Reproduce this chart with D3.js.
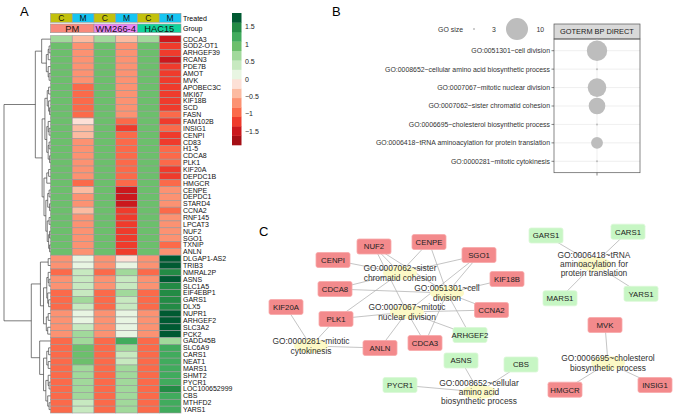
<!DOCTYPE html>
<html><head><meta charset="utf-8">
<script src="https://cdn.jsdelivr.net/npm/d3@7"></script>
<style>
html,body{margin:0;padding:0;background:#fff;}
svg{display:block;font-family:"Liberation Sans",Arial,Helvetica,sans-serif;}
</style></head>
<body><svg id="chart" width="677" height="418"></svg>
<script>
// ---------------- DATA ----------------
const genes = ["CDCA3","SOD2-OT1","ARHGEF39","RCAN3","PDE7B","AMOT","MVK","APOBEC3C","MKI67","KIF18B","SCD","FASN","FAM102B","INSIG1","CENPI","CD83","H1-5","CDCA8","PLK1","KIF20A","DEPDC1B","HMGCR","CENPE","DEPDC1","STARD4","CCNA2","RNF145","LPCAT3","NUF2","SGO1","TXNIP","ANLN",
"DLGAP1-AS2","TRIB3","NMRAL2P","ASNS","SLC1A5","EIF4EBP1","GARS1","DLX5","NUPR1","ARHGEF2","SLC3A2","PCK2","GADD45B","SLC6A9","CARS1","NEAT1","MARS1","SHMT2","PYCR1","LOC100652999","CBS","MTHFD2","YARS1"];
const samples = ["PM_C","PM_M","WM_C","WM_M","HAC_C","HAC_M"];
const treated = ["C","M","C","M","C","M"];
const groups = ["PM","WM266-4","HAC15"];
const sampleGroup = ["PM","PM","WM266-4","WM266-4","HAC15","HAC15"];

const cTop = [0.6,1,1,1,1,1,1,1,1,1,1,1,1,1,1,1,1,1,1,1,1,1,1,1,1,1,1,1,1,1,1,1];
const cBottom = [-0.7,-0.7,-0.9,-0.7,-0.7,-0.9,-0.9,-0.9,-0.7,-0.7,-0.7,-0.7,-0.9,-0.9,-0.9,-0.9,-0.9,-0.9,-0.9,-0.9,-0.9,-0.9,-0.9];
const pmC = cTop.concat(cBottom);
const wmC = cTop.concat(cBottom);
const hacC = cTop.concat(cBottom);
const pmM = [-0.4,-0.7,-0.7,-0.7,-0.7,-0.6,-0.6,-0.9,-0.9,-0.9,-0.9,-0.9,-0.15,-0.4,-0.4,-0.7,-0.7,-0.7,-0.7,-0.7,-0.7,-1.0,-0.4,-0.7,-0.7,-0.4,-0.7,-0.7,-0.7,-0.7,-0.7,-0.7,
  0.15,0.15,0.4,0.4,0.4,0.4,0.6,0.4,0.15,0.15,0.4,0.6,0.6,1.0,1.0,1.0,0.6,0.6,0.6,0.6,0.6,0.4,0.4];
const wmM = [-0.45,-0.7,-0.7,-0.6,-0.7,-0.7,-0.7,-0.6,-0.6,-0.6,-0.7,-0.7,-0.9,-1.2,-0.9,-0.9,-0.9,-0.9,-0.9,-0.9,-0.9,-0.9,-1.6,-1.6,-1.6,-1.3,-1.3,-1.3,-1.3,-1.3,-1.3,-1.3,
  -0.15,0.15,0.6,0.4,0.4,0.6,0.4,0.4,0.15,0.15,0.15,0.15,1.2,0.6,0.4,0.4,0.6,0.6,0.6,0.6,0.6,0.6,0.6];
const hacM = [-1.6,-1.3,-1.3,-1.6,-1.3,-1.3,-1.3,-1.3,-1.3,-1.3,-1.2,-1.0,-1.2,-1.0,-1.3,-1.3,-1.0,-1.0,-1.0,-1.3,-1.3,-1.0,-0.8,-0.7,-0.7,-0.9,-0.8,-0.7,-0.8,-0.8,-0.9,-0.8,
  1.8,1.8,1.4,1.8,1.4,1.4,1.4,1.4,1.8,1.8,1.8,1.8,0.6,1.2,1.2,1.2,1.2,1.2,1.2,1.4,1.2,1.2,1.2];
const matrix = [pmC, pmM, wmC, wmM, hacC, hacM];
const legendTicks = [1.5,1,0.5,0,-0.5,-1,-1.5];

// row dendrogram: [height, left, right], leaves are gene indices
const dendro = [1.0,
  [0.326,
    [0.19, 0, [0.09, [0.05,[0.03,1,2],3], [0.05,4,[0.03,5,6]]]],
    [0.18,
      [0.12, [0.07,[0.04,7,8],[0.04,9,[0.02,10,11]]], [0.08,[0.05,12,[0.03,13,14]],[0.05,[0.03,15,16],[0.02,17,18]]]],
      [0.14, [0.08,[0.04,19,20],21], [0.1,[0.06,[0.03,22,23],[0.02,24,25]],[0.07,[0.03,26,27],[0.04,[0.02,28,29],[0.02,30,31]]]]]]],
  [0.413,
    [0.217, [0.05,32,33], [0.15,[0.08,[0.05,34,[0.03,35,36]],[0.06,37,[0.04,38,39]]],[0.09,[0.05,40,41],[0.06,42,43]]]],
    [0.233, 44, [0.15,[0.08,[0.04,45,46],[0.05,47,48]],[0.1,[0.05,49,[0.03,50,51]],[0.06,52,[0.03,53,54]]]]]]];

// Panel B
const goTerms = ["GO:0051301~cell division","GO:0008652~cellular amino acid biosynthetic process","GO:0007067~mitotic nuclear division","GO:0007062~sister chromatid cohesion","GO:0006695~cholesterol biosynthetic process","GO:0006418~tRNA aminoacylation for protein translation","GO:0000281~mitotic cytokinesis"];
const goSize = [9,3,8,7,3,5,3];
const facet = ["GOTERM BP DIRECT"];
const sizeBreaks = [3,10];

// Panel C network (layout units from the original network layout)
const geneNodes = ["CENPI","NUF2","CENPE","SGO1","KIF18B","CCNA2","ARHGEF2","CDCA3","ANLN","PLK1","CDCA8","KIF20A","ASNS","CBS","PYCR1","GARS1","CARS1","MARS1","YARS1","MVK","HMGCR","INSIG1"];
const geneDir = ["down","down","down","down","down","down","up","down","down","down","down","down","up","up","up","up","up","up","up","down","down","down"];
const geneLX = [68,109,164,214,242,226.5,205,160,115,71,70,21,196,256,135,281,363,295,376,340,300,390];
const geneLY = [45,31.5,27,40,64,95,120,128,133,104,74,92,145.5,149.5,170,20.5,16.7,83.3,78.8,110,174.7,170];
const goNodes = ["GO:0007062","GO:0051301","GO:0007067","GO:0000281","GO:0008652","GO:0006418","GO:0006695"];
const goLabels = [["GO:0007062~sister","chromatid cohesion"],["GO:0051301~cell","division"],["GO:0007067~mitotic","nuclear division"],["GO:0000281~mitotic","cytokinesis"],["GO:0008652~cellular","amino acid","biosynthetic process"],["GO:0006418~tRNA","aminoacylation for","protein translation"],["GO:0006695~cholesterol","biosynthetic process"]];
const goLX = [135,182,142,46,214,329,343];
const goLY = [58,78,97,131,177,49,148];
const edges = [
 ["CENPI","GO:0007062"],["NUF2","GO:0007062"],["CENPE","GO:0007062"],["SGO1","GO:0007062"],["CDCA8","GO:0007062"],["PLK1","GO:0007062"],
 ["NUF2","GO:0051301"],["CENPE","GO:0051301"],["ARHGEF2","GO:0051301"],["SGO1","GO:0051301"],["KIF18B","GO:0051301"],["CCNA2","GO:0051301"],["CDCA8","GO:0051301"],["CDCA3","GO:0051301"],
 ["NUF2","GO:0007067"],["CDCA3","GO:0007067"],["PLK1","GO:0007067"],["ANLN","GO:0007067"],["SGO1","GO:0007067"],["CCNA2","GO:0007067"],["ARHGEF2","GO:0007067"],
 ["KIF20A","GO:0000281"],["PLK1","GO:0000281"],["ANLN","GO:0000281"],
 ["ASNS","GO:0008652"],["CBS","GO:0008652"],["PYCR1","GO:0008652"],
 ["GARS1","GO:0006418"],["CARS1","GO:0006418"],["MARS1","GO:0006418"],["YARS1","GO:0006418"],
 ["MVK","GO:0006695"],["HMGCR","GO:0006695"],["INSIG1","GO:0006695"]];

// ---------------- DRAW ----------------
const svg = d3.select("#chart");
svg.append("rect").attr("width",677).attr("height",418).attr("fill","#fff");

const palette = ["#a50f15","#cb181d","#ef3b2c","#fb6a4a","#fc9272","#fcbba1","#fde0d6","#e8f5e2","#c7e9c0","#a1d99b","#6cbf6c","#41ab5d","#238b45","#005a32"];
const color = d3.scaleQuantize().domain([-1.9,1.9]).range(palette);

const yRow = d3.scaleBand().domain(genes).range([35.7,413]);
const xCol = d3.scaleBand().domain(samples).range([50.5,181]);
const gA = svg.append("g");

// panel letters
svg.append("text").attr("x",20).attr("y",16).attr("font-size",13).text("A");
svg.append("text").attr("x",332).attr("y",15.5).attr("font-size",13).text("B");
svg.append("text").attr("x",259).attr("y",236).attr("font-size",13).text("C");

// heatmap cells
samples.forEach((s,j)=>{
  gA.selectAll(null).data(matrix[j]).join("rect")
    .attr("x",xCol(s)).attr("y",(d,i)=>yRow(genes[i]))
    .attr("width",xCol.bandwidth()).attr("height",yRow.bandwidth())
    .attr("fill",d=>color(d)).attr("stroke","#999").attr("stroke-width",0.6);
});
// treated annotation
const treatColor = d3.scaleOrdinal().domain(["C","M"]).range(["#c2c10c","#16c5f2"]);
gA.selectAll(null).data(samples).join("rect")
  .attr("x",d=>xCol(d)).attr("y",13.3).attr("width",xCol.bandwidth()).attr("height",9)
  .attr("fill",(d,i)=>treatColor(treated[i])).attr("stroke","#999").attr("stroke-width",0.6);
gA.selectAll(null).data(samples).join("text")
  .attr("x",d=>xCol(d)+xCol.bandwidth()/2).attr("y",21.2).attr("text-anchor","middle")
  .attr("font-size",8.5).attr("fill","#111").text((d,i)=>treated[i]);
// group annotation
const groupColor = d3.scaleOrdinal().domain(groups).range(["#f88a7c","#e984f5","#10d39b"]);
groups.forEach(g=>{
  const cols = samples.filter((s,i)=>sampleGroup[i]===g);
  const x0 = xCol(cols[0]), x1 = xCol(cols[cols.length-1])+xCol.bandwidth();
  gA.append("rect").attr("x",x0).attr("y",24).attr("width",x1-x0).attr("height",8.7)
    .attr("fill",groupColor(g)).attr("stroke","#999").attr("stroke-width",0.6);
  gA.append("text").attr("x",(x0+x1)/2).attr("y",31.8).attr("text-anchor","middle")
    .attr("font-size",9.3).attr("fill","#111").text(g);
});
gA.append("text").attr("x",183).attr("y",20.8).attr("font-size",7).text("Treated");
gA.append("text").attr("x",183).attr("y",31.3).attr("font-size",7).text("Group");

// gene labels
gA.selectAll(null).data(genes).join("text")
  .attr("x",183).attr("y",d=>yRow(d)+yRow.bandwidth()/2+2.5)
  .attr("font-size",7).attr("fill","#111").text(d=>d);

// color legend
const yLeg = d3.scaleLinear().domain([-1.9,1.9]).range([145,13]);
gA.selectAll(null).data(palette).join("rect")
  .attr("x",232).attr("width",9.5)
  .attr("y",d=>yLeg(color.invertExtent(d)[1]))
  .attr("height",d=>yLeg(color.invertExtent(d)[0])-yLeg(color.invertExtent(d)[1])+0.3)
  .attr("fill",d=>d);
gA.selectAll(null).data(legendTicks).join("text")
  .attr("x",245).attr("y",d=>yLeg(d)+2.5).attr("font-size",7).attr("fill","#222")
  .text(d=>d3.format("")(d).replace("-","\u2212"));

// dendrogram
const xD = d3.scaleLinear().domain([0,1]).range([50.5,4]);
const dg = gA.append("g").attr("stroke","#444").attr("stroke-width",0.7).attr("fill","none");
function drawNode(n){
  if(typeof n === "number") return {x:xD(0), y:yRow(genes[n])+yRow.bandwidth()/2};
  const l = drawNode(n[1]), r = drawNode(n[2]);
  const x = xD(n[0]);
  dg.append("path").attr("d",`M${l.x},${l.y}H${x}V${r.y}H${r.x}`);
  return {x:x, y:(l.y+r.y)/2};
}
drawNode(dendro);

// ---------------- Panel B ----------------
const gB = svg.append("g");
const yB = d3.scalePoint().domain(goTerms).range([50.7,161.3]);
const xB = d3.scalePoint().domain(facet).range([554,640]).padding(0.5);
const area = d3.scaleLinear().domain([3,10]).range([1,121]);
const rB = s => Math.sqrt(Math.max(area(s),0));
// strip
gB.append("rect").attr("x",554).attr("y",24).attr("width",86).attr("height",15)
  .attr("fill","#d9d9d9").attr("stroke","#555").attr("stroke-width",0.7);
gB.append("text").attr("x",597).attr("y",34.3).attr("text-anchor","middle").attr("font-size",7.4).attr("fill","#1a1a1a").text(facet[0]);
// panel grid
gB.selectAll(null).data(goTerms).join("line")
  .attr("x1",554).attr("x2",640).attr("y1",d=>yB(d)).attr("y2",d=>yB(d))
  .attr("stroke","#ebebeb").attr("stroke-width",0.8);
gB.append("line").attr("x1",xB(facet[0])).attr("x2",xB(facet[0])).attr("y1",39).attr("y2",172.7)
  .attr("stroke","#ebebeb").attr("stroke-width",0.8);
// points
gB.selectAll(null).data(goTerms).join("circle")
  .attr("cx",xB(facet[0])).attr("cy",d=>yB(d)).attr("r",(d,i)=>rB(goSize[i]))
  .attr("fill","#bdbdbd");
gB.append("rect").attr("x",554).attr("y",39).attr("width",86).attr("height",133.7)
  .attr("fill","none").attr("stroke","#555").attr("stroke-width",0.7);
// axes ticks + labels
gB.selectAll(null).data(goTerms).join("line")
  .attr("x1",551.5).attr("x2",554).attr("y1",d=>yB(d)).attr("y2",d=>yB(d)).attr("stroke","#333").attr("stroke-width",0.6);
gB.append("line").attr("x1",xB(facet[0])).attr("x2",xB(facet[0])).attr("y1",172.7).attr("y2",175.5).attr("stroke","#333").attr("stroke-width",0.6);
gB.selectAll(null).data(goTerms).join("text")
  .attr("x",550).attr("y",d=>yB(d)+2.4).attr("text-anchor","end").attr("font-size",6.9).attr("fill","#333").text(d=>d);
// size legend
gB.append("text").attr("x",463).attr("y",31.5).attr("text-anchor","end").attr("font-size",6.9).attr("fill","#333").text("GO size");
const legX = d3.scalePoint().domain(sizeBreaks).range([474,517]);
gB.selectAll(null).data(sizeBreaks).join("circle")
  .attr("cx",d=>legX(d)).attr("cy",29).attr("r",d=>rB(d)).attr("fill","#bdbdbd");
gB.selectAll(null).data(sizeBreaks).join("text")
  .attr("x",d=>legX(d)+(d===3?18:19.5)).attr("y",31.5).attr("font-size",6.9).attr("fill","#333").text(d=>d);

// ---------------- Panel C ----------------
const gC = svg.append("g");
const xN = d3.scaleLinear().domain([0,400]).range([265,665]);
const yN = d3.scaleLinear().domain([0,200]).range([215,415]);
const pos = {};
geneNodes.forEach((g,i)=>pos[g]={x:xN(geneLX[i]),y:yN(geneLY[i])});
goNodes.forEach((g,i)=>pos[g]={x:xN(goLX[i]),y:yN(goLY[i])});
gC.selectAll(null).data(edges).join("line")
  .attr("x1",d=>pos[d[0]].x).attr("y1",d=>pos[d[0]].y)
  .attr("x2",d=>pos[d[1]].x).attr("y2",d=>pos[d[1]].y)
  .attr("stroke","#b5b5b5").attr("stroke-width",0.8);
gC.selectAll(null).data(goNodes).join("ellipse")
  .attr("cx",d=>pos[d].x).attr("cy",d=>pos[d].y).attr("rx",17).attr("ry",7)
  .attr("fill","#fcf9c6");
goNodes.forEach((g,i)=>{
  const lines = goLabels[i];
  const t = gC.append("text").attr("text-anchor","middle").attr("font-size",8.4).attr("fill","#333");
  lines.forEach((ln,k)=>{
    t.append("tspan").attr("x",pos[g].x)
      .attr("y",pos[g].y + (k-(lines.length-1)/2)*9.3 + 3).text(ln);
  });
});
const dirFill = d3.scaleOrdinal().domain(["down","up"]).range(["#f38a8c","#c7f6c4"]);
const dirStroke = d3.scaleOrdinal().domain(["down","up"]).range(["#f7a8a9","#daf8d7"]);
gC.selectAll(null).data(geneNodes).join("rect")
  .attr("x",d=>pos[d].x-17).attr("y",d=>pos[d].y-7.5).attr("width",34).attr("height",15).attr("rx",2)
  .attr("fill",(d,i)=>dirFill(geneDir[i])).attr("stroke",(d,i)=>dirStroke(geneDir[i])).attr("stroke-width",0.8);
gC.selectAll(null).data(geneNodes).join("text")
  .attr("x",d=>pos[d].x).attr("y",d=>pos[d].y+2.8).attr("text-anchor","middle")
  .attr("font-size",7.8).attr("fill","#222").text(d=>d);
</script></body></html>
